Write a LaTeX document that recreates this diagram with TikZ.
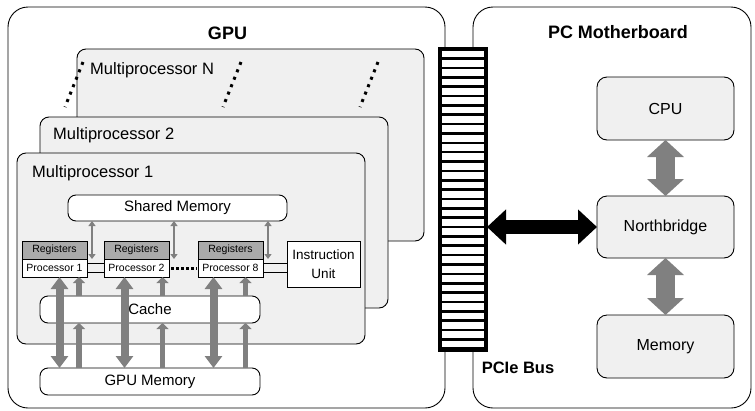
\documentclass[tikz,border=0pt]{standalone}
\usepackage{fontspec}
\setmainfont{Liberation Sans}
\usetikzlibrary{arrows.meta}
\definecolor{mpfill}{RGB}{240,240,240}
\definecolor{reggray}{RGB}{170,170,170}
\definecolor{arrgray}{RGB}{128,128,128}
\begin{document}
\begin{tikzpicture}[x=1pt,y=-1pt,
  box/.style={draw, line width=0.9pt, inner sep=0pt, outer sep=0pt, anchor=north west},
  outerbox/.style={box, rounded corners=20pt, fill=white},
  mpbox/.style={box, rounded corners=9pt, fill=mpfill},
  membox/.style={box, rounded corners=8pt, fill=white, font=\fontsize{15}{18}\selectfont},
  regbox/.style={box, fill=reggray, minimum width=65pt, minimum height=18pt, font=\fontsize{10.5}{12}\selectfont},
  procbox/.style={box, fill=white, minimum width=65pt, minimum height=18pt, font=\fontsize{10.5}{12}\selectfont},
  pcbox/.style={box, rounded corners=10pt, fill=mpfill, minimum width=137pt, font=\fontsize{16}{19}\selectfont},
  mplabel/.style={anchor=west, inner sep=0pt, font=\fontsize{16.5}{19}\selectfont},
  title/.style={inner sep=0pt, font=\fontsize{18}{21}\selectfont\bfseries},
  bigarrow/.style={arrgray, line width=8pt, {Triangle[width=17pt,length=12pt]}-{Triangle[width=17pt,length=12pt]}},
  uparrow/.style={arrgray, line width=5.5pt, -{Triangle[width=12pt,length=6pt]}},
  smarrow/.style={arrgray, line width=2.5pt, {Triangle[width=7pt,length=5pt]}-{Triangle[width=7pt,length=5pt]}},
  pcarrow/.style={arrgray, line width=19pt, {Triangle[width=36pt,length=17pt]}-{Triangle[width=36pt,length=17pt]}},
  busarrow/.style={black, line width=14pt, {Triangle[width=34pt,length=19pt]}-{Triangle[width=34pt,length=19pt]}},
  dots/.style={black, line width=3pt, dash pattern=on 3pt off 5pt},
  link/.style={draw, line width=0.7pt, fill=mpfill}
]
\useasboundingbox (0,0) rectangle (755,410);
\fill[white] (0,0) rectangle (755,410);

% outer boxes
\node[outerbox, minimum width=437pt, minimum height=401pt] (gpu) at (8,7) {};
\node[outerbox, minimum width=278pt, minimum height=401pt] (mb) at (473,7) {};
\node[title] (gputitle) at (227.5,33) {GPU};
\node[title] (mbtitle) at (618,32) {PC Motherboard};

% multiprocessor N
\node[mpbox, minimum width=347pt, minimum height=192pt] (mpN) at (77,49) {};
\node[mplabel] (mpNl) at (90,70) {Multiprocessor N};
\draw[dots] (83,62) -- (65,107);
\draw[dots] (241,62) -- (223,107);
\draw[dots] (378,62) -- (360,107);

% multiprocessor 2
\node[mpbox, minimum width=348pt, minimum height=191pt] (mp2) at (40,117) {};
\node[mplabel] (mp2l) at (53,135) {Multiprocessor 2};

% multiprocessor 1
\node[mpbox, minimum width=348pt, minimum height=191pt] (mp1) at (17,153) {};
\node[mplabel] (mp1l) at (32,173) {Multiprocessor 1};

\node[membox, minimum width=219pt, minimum height=26pt] (sm) at (68,195) {Shared Memory};

% links between processors
\path[link] (87,263) rectangle (104,272);
\path[link] (263,263) rectangle (287,272);
\draw[black, line width=3pt, dash pattern=on 3pt off 2pt] (171,268) -- (197,268);

\node[regbox] (r1) at (22,241) {Registers};
\node[procbox] (p1) at (22,259) {Processor 1};
\node[regbox] (r2) at (104,241) {Registers};
\node[procbox] (p2) at (104,259) {Processor 2};
\node[regbox] (r8) at (198,241) {Registers};
\node[procbox] (p8) at (198,259) {Processor 8};
\node[box, fill=white, minimum width=73pt, minimum height=46pt, align=center,
      font=\fontsize{13.5}{19}\selectfont] (iu) at (287,241) {Instruction\\Unit};

\node[membox, minimum width=220pt, minimum height=27pt] (cache) at (40,296) {Cache};
\node[membox, minimum width=220pt, minimum height=27pt] (gm) at (40,368) {GPU Memory};

% shared memory arrows
\draw[smarrow] (92,0 |- sm.south) -- (92,0 |- p1.north);
\draw[smarrow] (174,0 |- sm.south) -- (174,0 |- p2.north);
\draw[smarrow] (268,0 |- sm.south) -- (268,0 |- p8.north);

% big arrows
\draw[bigarrow] (59.5,0 |- p1.south) -- (59.5,0 |- gm.north);
\draw[bigarrow] (124.5,0 |- p2.south) -- (124.5,0 |- gm.north);
\draw[bigarrow] (213.5,0 |- p8.south) -- (213.5,0 |- gm.north);

% up arrows
\draw[uparrow] (79,0 |- cache.north) -- (79,0 |- p1.south);
\draw[uparrow] (162.5,0 |- cache.north) -- (162.5,0 |- p2.south);
\draw[uparrow] (245.5,0 |- cache.north) -- (245.5,0 |- p8.south);
\draw[uparrow] (79,0 |- gm.north) -- (79,0 |- cache.south);
\draw[uparrow] (162.5,0 |- gm.north) -- (162.5,0 |- cache.south);
\draw[uparrow] (245.5,0 |- gm.north) -- (245.5,0 |- cache.south);

% PCIe bus
\node[box, fill=black, draw=black, minimum width=49pt, minimum height=304pt] (bus) at (438,47) {};
\foreach \i in {0,...,31}
  \fill[white] (441.5,{50.5+\i*9.36}) rectangle (483.5,{50.5+\i*9.36+6.76});
\node[title, font=\fontsize{16.5}{19}\selectfont\bfseries] (buslabel) at (518,368) {PCIe Bus};

% motherboard
\node[pcbox, minimum height=63pt] (cpu) at (597,77) {CPU};
\node[pcbox, minimum height=62pt] (nb) at (597,196) {Northbridge};
\node[pcbox, minimum height=63pt] (mem) at (597,315) {Memory};

\draw[pcarrow] (cpu.south) -- (nb.north);
\draw[pcarrow] (nb.south) -- (mem.north);
\draw[busarrow] (bus.east |- nb.west) -- (nb.west);
\end{tikzpicture}
\end{document}
